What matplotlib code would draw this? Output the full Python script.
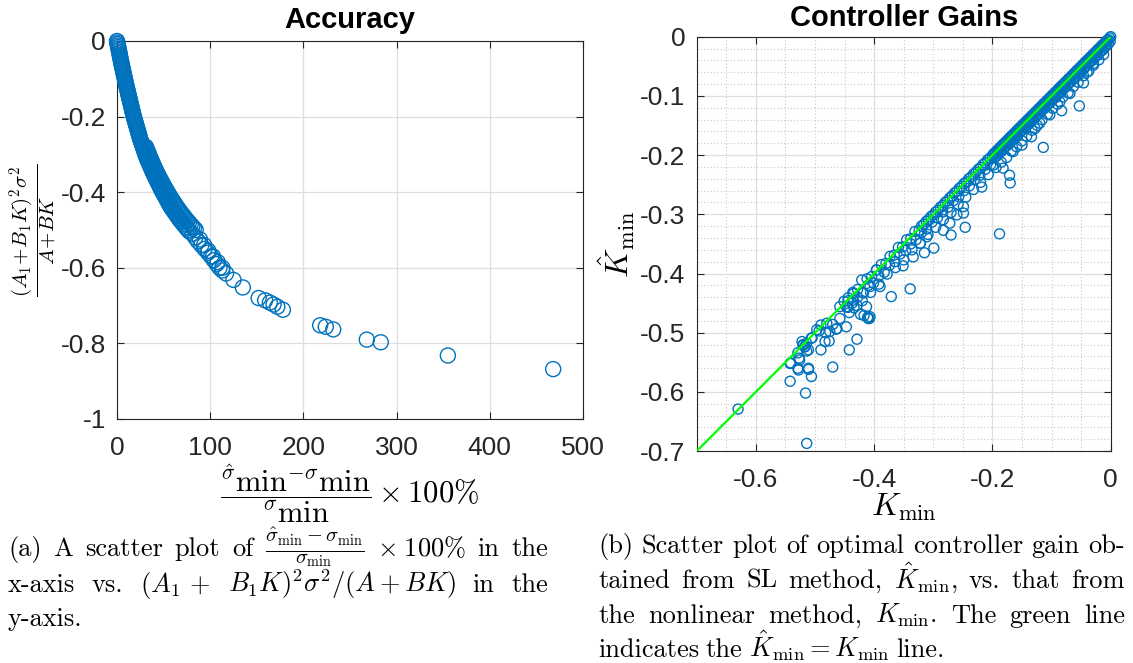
import numpy as np
import matplotlib.pyplot as plt
from matplotlib.ticker import MultipleLocator

plt.rcParams['font.family'] = ['Liberation Sans', 'DejaVu Sans']
plt.rcParams['mathtext.fontset'] = 'cm'
plt.rcParams['axes.unicode_minus'] = False

# ---------------- data: (a) Accuracy ----------------
# dense part of the curve (x = error in %, y = gain term), read along the band
acc_dense = [
    (0.0, 0.0), (0.3, -0.004), (0.6, -0.008), (1.0, -0.012), (1.3, -0.016), (1.6, -0.020),
    (1.9, -0.024), (2.3, -0.028), (2.6, -0.032), (2.9, -0.036), (3.2, -0.040), (3.5, -0.044),
    (3.9, -0.048), (4.2, -0.052), (4.5, -0.056), (4.8, -0.060), (5.2, -0.064), (5.5, -0.068),
    (5.9, -0.072), (6.3, -0.076), (6.6, -0.080), (7.0, -0.084), (7.3, -0.088), (7.7, -0.092),
    (8.0, -0.096), (8.4, -0.100), (8.8, -0.104), (9.1, -0.108), (9.5, -0.112), (9.8, -0.116),
    (10.2, -0.120), (10.6, -0.124), (11.0, -0.128), (11.4, -0.132), (11.8, -0.136), (12.1, -0.140),
    (12.5, -0.144), (12.9, -0.148), (13.3, -0.152), (13.7, -0.156), (14.1, -0.160), (14.5, -0.164),
    (14.9, -0.168), (15.3, -0.172), (15.7, -0.176), (16.0, -0.180), (16.4, -0.184), (16.8, -0.188),
    (17.2, -0.192), (17.6, -0.196), (18.0, -0.200), (18.5, -0.204), (18.9, -0.208), (19.4, -0.212),
    (19.9, -0.216), (20.3, -0.220), (20.8, -0.224), (21.3, -0.228), (21.7, -0.232), (22.2, -0.236),
    (22.7, -0.240), (23.1, -0.244), (23.6, -0.248), (24.1, -0.252), (24.5, -0.256), (25.0, -0.260),
    (25.6, -0.264), (26.1, -0.268), (26.7, -0.272), (27.2, -0.276), (27.8, -0.280), (28.4, -0.284),
    (28.9, -0.288), (29.5, -0.292), (30.0, -0.296), (30.6, -0.300), (31.2, -0.304), (31.7, -0.308),
    (32.4, -0.312), (33.1, -0.316), (33.8, -0.320), (34.5, -0.324), (35.2, -0.328), (35.9, -0.332),
    (36.6, -0.336), (37.3, -0.340), (38.0, -0.344), (38.8, -0.348), (39.5, -0.352), (40.2, -0.356),
    (41.0, -0.360), (41.8, -0.364), (42.6, -0.368), (43.4, -0.372), (44.2, -0.376), (45.0, -0.380),
    (45.8, -0.384), (46.6, -0.388), (47.4, -0.392), (48.2, -0.396), (49.1, -0.400), (50.0, -0.404),
    (50.9, -0.408), (51.8, -0.412), (52.7, -0.416), (53.6, -0.420), (54.4, -0.424), (55.3, -0.428),
    (56.2, -0.432), (57.1, -0.436), (58.0, -0.440), (59.1, -0.444), (60.3, -0.448), (61.4, -0.452),
    (62.6, -0.456), (63.7, -0.460), (64.9, -0.464), (66.0, -0.468), (67.1, -0.472), (68.3, -0.476),
    (69.7, -0.480), (71.0, -0.484), (72.3, -0.488), (73.7, -0.492), (75.0, -0.496), (76.3, -0.500),
    (77.7, -0.504), (81.0, -0.51), (84.0, -0.52), (87.0, -0.53), (90.5, -0.54), (94.0, -0.55),
    (97.5, -0.56), (101.0, -0.57), (104.0, -0.58), (107.0, -0.59), (110.0, -0.60),
]
acc_spread = [
    (31.0, -0.280), (31.8, -0.285), (32.6, -0.290), (33.4, -0.295), (34.2, -0.300), (35.0, -0.305),
    (35.8, -0.310), (36.7, -0.315), (37.6, -0.320), (38.5, -0.325), (39.4, -0.330), (40.3, -0.335),
    (41.2, -0.340), (42.2, -0.345), (43.2, -0.350), (44.2, -0.355), (45.2, -0.360), (46.3, -0.365),
    (47.4, -0.370), (48.5, -0.375), (49.6, -0.380), (50.7, -0.385), (51.8, -0.390), (53.0, -0.395),
    (54.2, -0.400), (55.4, -0.405), (56.6, -0.410), (57.9, -0.415), (59.2, -0.420), (60.5, -0.425),
    (61.8, -0.430), (63.2, -0.435), (64.6, -0.440), (66.0, -0.445), (67.5, -0.450), (69.0, -0.455),
    (70.6, -0.460), (72.2, -0.465), (73.8, -0.470), (75.5, -0.475), (77.2, -0.480), (79.0, -0.485),
    (80.8, -0.490), (82.6, -0.495), (84.5, -0.500), (89.0, -0.525), (93.5, -0.540), (98.0, -0.555),
    (103.0, -0.570), (108.0, -0.585), (113.0, -0.600),
]
acc_sparse = [
    (113, -0.607), (117, -0.615), (125, -0.632), (135, -0.652), (152, -0.680), (159, -0.686),
    (164, -0.692), (168, -0.697), (172, -0.703), (178, -0.711), (218, -0.752), (224, -0.756),
    (232, -0.763), (268, -0.790), (283, -0.797), (355, -0.832), (468, -0.868),
]

# ---------------- data: (b) Controller gains (K_min, K_hat_min) ----------------
gain_top = [
    (0.0, 0.0), (-0.002, -0.002), (-0.004, -0.005), (-0.006, -0.006), (-0.008, -0.009),
    (-0.010, -0.010), (-0.012, -0.013), (-0.014, -0.014), (-0.016, -0.016), (-0.018, -0.019),
    (-0.020, -0.020), (-0.022, -0.023), (-0.024, -0.024), (-0.026, -0.027), (-0.028, -0.028),
    (-0.030, -0.030), (-0.032, -0.033), (-0.034, -0.034), (-0.036, -0.037), (-0.038, -0.038),
    (-0.040, -0.041), (-0.042, -0.042), (-0.044, -0.044), (-0.046, -0.047), (-0.048, -0.048),
    (-0.050, -0.051), (-0.052, -0.052), (-0.054, -0.055), (-0.056, -0.056), (-0.058, -0.058),
    (-0.060, -0.061), (-0.062, -0.062), (-0.064, -0.065), (-0.066, -0.066), (-0.068, -0.069),
    (-0.070, -0.070), (-0.072, -0.072), (-0.074, -0.075), (-0.076, -0.076), (-0.078, -0.079),
    (-0.080, -0.080), (-0.082, -0.083), (-0.084, -0.084), (-0.086, -0.086), (-0.088, -0.089),
    (-0.090, -0.090), (-0.092, -0.093), (-0.094, -0.094), (-0.096, -0.097), (-0.098, -0.098),
    (-0.100, -0.100), (-0.102, -0.103), (-0.104, -0.104), (-0.106, -0.107), (-0.108, -0.108),
    (-0.110, -0.111), (-0.112, -0.112), (-0.114, -0.114), (-0.116, -0.117), (-0.118, -0.118),
    (-0.120, -0.121), (-0.122, -0.122), (-0.124, -0.125), (-0.126, -0.126), (-0.128, -0.128),
    (-0.130, -0.131), (-0.132, -0.132), (-0.134, -0.135), (-0.136, -0.136), (-0.138, -0.139),
    (-0.140, -0.140), (-0.142, -0.142), (-0.144, -0.145), (-0.146, -0.146), (-0.148, -0.149),
    (-0.150, -0.150), (-0.152, -0.153), (-0.154, -0.154), (-0.156, -0.156), (-0.158, -0.159),
    (-0.160, -0.160), (-0.162, -0.163), (-0.164, -0.164), (-0.166, -0.167), (-0.168, -0.168),
    (-0.170, -0.170), (-0.172, -0.173), (-0.174, -0.174), (-0.176, -0.177), (-0.178, -0.178),
    (-0.180, -0.181), (-0.182, -0.182), (-0.184, -0.184), (-0.186, -0.187), (-0.188, -0.188),
    (-0.190, -0.191), (-0.192, -0.192), (-0.194, -0.195), (-0.196, -0.196), (-0.198, -0.198),
    (-0.200, -0.201),
    (-0.001, -0.008), (-0.004, -0.012), (-0.007, -0.015), (-0.010, -0.018), (-0.013, -0.022),
    (-0.016, -0.024), (-0.019, -0.027), (-0.022, -0.031), (-0.025, -0.033), (-0.028, -0.036),
    (-0.031, -0.040), (-0.034, -0.042), (-0.037, -0.045), (-0.040, -0.049), (-0.043, -0.051),
    (-0.046, -0.054), (-0.049, -0.058), (-0.052, -0.060), (-0.055, -0.063), (-0.058, -0.067),
    (-0.061, -0.069), (-0.064, -0.072), (-0.067, -0.076), (-0.070, -0.078), (-0.073, -0.081),
    (-0.076, -0.085), (-0.079, -0.087), (-0.082, -0.090), (-0.085, -0.094), (-0.088, -0.096),
    (-0.091, -0.099), (-0.094, -0.103), (-0.097, -0.105), (-0.100, -0.108), (-0.103, -0.112),
    (-0.106, -0.114), (-0.109, -0.117), (-0.112, -0.121), (-0.115, -0.123), (-0.118, -0.126),
    (-0.121, -0.130), (-0.124, -0.132), (-0.127, -0.135), (-0.130, -0.139), (-0.133, -0.141),
    (-0.136, -0.144), (-0.139, -0.148), (-0.142, -0.150), (-0.145, -0.153), (-0.148, -0.157),
    (-0.151, -0.159), (-0.154, -0.162), (-0.157, -0.166), (-0.160, -0.168), (-0.163, -0.171),
    (-0.166, -0.175), (-0.169, -0.177), (-0.172, -0.180), (-0.175, -0.184), (-0.178, -0.186),
    (-0.181, -0.189), (-0.184, -0.193), (-0.187, -0.195), (-0.190, -0.198), (-0.193, -0.202),
    (-0.196, -0.204),
]
gain_mid = [
    (-0.204, -0.205), (-0.208, -0.208), (-0.212, -0.213), (-0.216, -0.216), (-0.220, -0.221),
    (-0.224, -0.224), (-0.228, -0.229), (-0.232, -0.232), (-0.236, -0.237), (-0.240, -0.240),
    (-0.244, -0.245), (-0.248, -0.248), (-0.252, -0.253), (-0.256, -0.256), (-0.260, -0.261),
    (-0.264, -0.264), (-0.268, -0.269), (-0.272, -0.272), (-0.276, -0.277), (-0.280, -0.280),
    (-0.284, -0.285), (-0.288, -0.288), (-0.292, -0.293), (-0.296, -0.296), (-0.300, -0.301),
    (-0.304, -0.304), (-0.308, -0.309), (-0.312, -0.312), (-0.316, -0.317), (-0.320, -0.320),
    (-0.324, -0.327), (-0.331, -0.329), (-0.338, -0.341), (-0.345, -0.343), (-0.352, -0.355),
    (-0.359, -0.356), (-0.366, -0.369), (-0.373, -0.371), (-0.380, -0.383), (-0.388, -0.385),
    (-0.396, -0.394), (-0.404, -0.405), (-0.412, -0.409), (-0.421, -0.411), (-0.428, -0.427),
    (-0.436, -0.432), (-0.444, -0.441), (-0.451, -0.447), (-0.458, -0.456), (-0.480, -0.484),
    (-0.490, -0.487), (-0.497, -0.495), (-0.506, -0.509), (-0.522, -0.515), (-0.630, -0.629),
]
gain_below = [
    (-0.012, -0.030), (-0.020, -0.039), (-0.029, -0.048), (-0.037, -0.058), (-0.046, -0.066),
    (-0.055, -0.077), (-0.063, -0.084), (-0.072, -0.095), (-0.081, -0.102), (-0.090, -0.114),
    (-0.098, -0.121), (-0.107, -0.131), (-0.116, -0.140), (-0.124, -0.150), (-0.133, -0.158),
    (-0.142, -0.168), (-0.150, -0.176), (-0.159, -0.186), (-0.168, -0.193), (-0.176, -0.204),
    (-0.185, -0.212), (-0.194, -0.221),
    (-0.203, -0.216), (-0.212, -0.224), (-0.221, -0.234), (-0.230, -0.241), (-0.239, -0.252),
    (-0.248, -0.260), (-0.257, -0.270), (-0.266, -0.277), (-0.275, -0.288), (-0.284, -0.296),
    (-0.293, -0.306), (-0.302, -0.313), (-0.311, -0.325), (-0.320, -0.331), (-0.329, -0.343),
    (-0.338, -0.350), (-0.347, -0.361), (-0.356, -0.367), (-0.365, -0.380), (-0.374, -0.386),
    (-0.383, -0.398), (-0.392, -0.404), (-0.401, -0.416), (-0.410, -0.420), (-0.419, -0.432),
    (-0.428, -0.440), (-0.437, -0.450), (-0.446, -0.457),
    (-0.207, -0.233), (-0.220, -0.246), (-0.232, -0.258), (-0.245, -0.271), (-0.258, -0.283),
    (-0.270, -0.297), (-0.283, -0.309), (-0.296, -0.322), (-0.309, -0.334), (-0.322, -0.349),
    (-0.336, -0.360), (-0.350, -0.377), (-0.364, -0.390), (-0.378, -0.401), (-0.392, -0.418),
    (-0.406, -0.432), (-0.420, -0.446), (-0.434, -0.458),
    (-0.435, -0.434), (-0.444, -0.446), (-0.429, -0.454), (-0.423, -0.469), (-0.417, -0.471),
    (-0.411, -0.474), (-0.408, -0.476), (-0.444, -0.457), (-0.442, -0.466), (-0.447, -0.490),
    (-0.470, -0.486), (-0.464, -0.494), (-0.482, -0.500), (-0.493, -0.497), (-0.505, -0.509),
    (-0.517, -0.523), (-0.511, -0.529), (-0.476, -0.514), (-0.475, -0.498), (-0.463, -0.493),
    (-0.514, -0.518), (-0.520, -0.521), (-0.517, -0.524), (-0.514, -0.531), (-0.520, -0.520),
    (-0.527, -0.543), (-0.529, -0.534), (-0.526, -0.546), (-0.542, -0.552), (-0.541, -0.551),
    (-0.529, -0.560), (-0.511, -0.560), (-0.528, -0.563),
    (-0.407, -0.422), (-0.418, -0.433), (-0.435, -0.445), (-0.446, -0.456), (-0.458, -0.476),
    (-0.413, -0.456), (-0.407, -0.473), (-0.396, -0.394), (-0.334, -0.372), (-0.322, -0.349),
    (-0.311, -0.338), (-0.283, -0.327), (-0.272, -0.315), (-0.260, -0.301), (-0.249, -0.287),
    (-0.029, -0.045), (-0.040, -0.060), (-0.069, -0.096), (-0.086, -0.110), (-0.103, -0.132),
    (-0.120, -0.146), (-0.128, -0.155), (-0.134, -0.169), (-0.150, -0.183), (-0.165, -0.194),
    (-0.199, -0.217),
]
gain_outliers = [
    (-0.046, -0.078), (-0.053, -0.117), (-0.083, -0.125), (-0.114, -0.187), (-0.182, -0.222),
    (-0.171, -0.234), (-0.170, -0.247), (-0.218, -0.254), (-0.188, -0.333), (-0.246, -0.322),
    (-0.249, -0.298), (-0.270, -0.335), (-0.299, -0.357), (-0.315, -0.365), (-0.351, -0.387),
    (-0.339, -0.426), (-0.371, -0.439), (-0.390, -0.422), (-0.410, -0.476), (-0.429, -0.511),
    (-0.442, -0.529), (-0.470, -0.558), (-0.490, -0.529), (-0.483, -0.515), (-0.506, -0.574),
    (-0.511, -0.562), (-0.542, -0.582), (-0.516, -0.602), (-0.514, -0.687),
]

line_ends = [-0.7, 0.0]

acc = np.array(acc_dense + acc_spread + acc_sparse)
gains = np.array(gain_top + gain_mid + gain_below + gain_outliers)

W, H = 1133, 663
fig = plt.figure(figsize=(W / 100, H / 100), dpi=100)

blue = '#0072BD'
dark = '#262626'


def px_axes(l, t, r, b):
    return fig.add_axes([l / W, 1 - b / H, (r - l) / W, (b - t) / H])


def style(ax, xpad, ypad):
    ax.set_axisbelow(True)
    for s in ax.spines.values():
        s.set_color(dark)
        s.set_linewidth(0.8)
    ax.tick_params(which='major', direction='in', length=5, width=0.8, colors=dark,
                   labelsize=19, top=True, right=True)
    ax.tick_params(axis='x', pad=xpad)
    ax.tick_params(axis='y', pad=ypad)
    ax.tick_params(which='minor', length=0)
    ax.grid(True, which='major', color='#DEDEDE', lw=0.9)


# ---------------- (a) ----------------
ax1 = px_axes(117, 41, 583, 419)
ax1.scatter(acc[:, 0], acc[:, 1], s=117, facecolors='none', edgecolors=blue,
            linewidths=1.0, clip_on=False, zorder=3)
ax1.set_xlim(0, 500)
ax1.set_ylim(-1, 0)
ax1.set_xticks([0, 100, 200, 300, 400, 500])
ax1.set_xticklabels(['0', '100', '200', '300', '400', '500'])
ax1.set_yticks([-1, -0.8, -0.6, -0.4, -0.2, 0])
ax1.set_yticklabels(['-1', '-0.8', '-0.6', '-0.4', '-0.2', '0'])
style(ax1, 12, 8)
ax1.set_title('Accuracy', fontsize=21, fontweight='bold', pad=9)
ax1.set_xlabel(r'$\dfrac{{}^{\hat{\sigma}}\mathrm{min}{}^{-\sigma}\mathrm{min}}'
               r'{{}^{\sigma}\mathrm{min}}\times 100\%$', fontsize=22, labelpad=2)
ax1.set_ylabel(r'$\dfrac{(A_1\!+\!B_1K)^2\sigma^2}{A\!+\!BK}$', fontsize=15)
ax1.yaxis.set_label_coords(-0.125, 0.5)

# ---------------- (b) ----------------
ax2 = px_axes(696.7, 36.7, 1110.7, 451.1)
ax2.scatter(gains[:, 0], gains[:, 1], s=52, facecolors='none', edgecolors=blue,
            linewidths=1.0, clip_on=False, zorder=3)
ax2.plot(line_ends, line_ends, color='#00FF00', lw=1.6, zorder=4)
ax2.set_xlim(-0.7, 0)
ax2.set_ylim(-0.7, 0)
ax2.set_xticks([-0.6, -0.4, -0.2, 0])
ax2.set_xticklabels(['-0.6', '-0.4', '-0.2', '0'])
ax2.set_yticks([-0.7, -0.6, -0.5, -0.4, -0.3, -0.2, -0.1, 0])
ax2.set_yticklabels(['-0.7', '-0.6', '-0.5', '-0.4', '-0.3', '-0.2', '-0.1', '0'])
ax2.xaxis.set_minor_locator(MultipleLocator(0.05))
ax2.yaxis.set_minor_locator(MultipleLocator(0.02))
style(ax2, 12, 8)
ax2.grid(True, which='minor', color='#C8C8C8', lw=0.8, ls=(0, (1, 2)))
ax2.set_title('Controller Gains', fontsize=21, fontweight='bold', pad=8)
ax2.set_xlabel(r'$K_{\min}$', fontsize=23, labelpad=0)
ax2.set_ylabel(r'$\hat{K}_{\min}$', fontsize=23, labelpad=2)

# ---------------- captions ----------------
cap_size = 19
renderer = fig.canvas.get_renderer()


def put_line(chunks, x0, x1, ybase, justify=True):
    texts = []
    for c in chunks:
        txt, size = (c, cap_size) if isinstance(c, str) else c
        texts.append(fig.text(x0 / W, 1 - ybase / H, txt, family='cmr10', fontsize=size,
                              va='baseline', ha='left', color='black'))
    widths = [t.get_window_extent(renderer=renderer).width for t in texts]
    if justify and len(texts) > 1:
        gap = (x1 - x0 - sum(widths)) / (len(texts) - 1)
    else:
        gap = 6.5
    x = x0
    for t, w in zip(texts, widths):
        t.set_x(x / W)
        x += w + gap


put_line(['(a)', 'A', 'scatter', 'plot', 'of',
          (r'$\frac{\hat{\sigma}_{\min}-\sigma_{\min}}{\sigma_{\min}}$', 21),
          r'$\times\;100\%$', 'in', 'the'], 8, 548, 556)
put_line(['x-axis', 'vs.', r'$(A_1\,+$', r'$B_1K)^2\sigma^2/(A+BK)$', 'in', 'the'],
         8, 548, 592)
put_line(['y-axis.'], 8, 548, 626, justify=False)

put_line(['(b)', 'Scatter', 'plot', 'of', 'optimal', 'controller', 'gain', 'ob-'], 598, 1125, 553)
put_line(['tained', 'from', 'SL', 'method,', r'$\hat{K}_{\min}$,', 'vs.', 'that', 'from'],
         598, 1125, 588)
put_line(['the', 'nonlinear', 'method,', r'$K_{\min}$.', 'The', 'green', 'line'],
         598, 1125, 623)
put_line(['indicates', 'the', r'$\hat{K}_{\min}=K_{\min}$', 'line.'], 598, 1125, 657,
         justify=False)

fig.savefig('out.png', dpi=100)
